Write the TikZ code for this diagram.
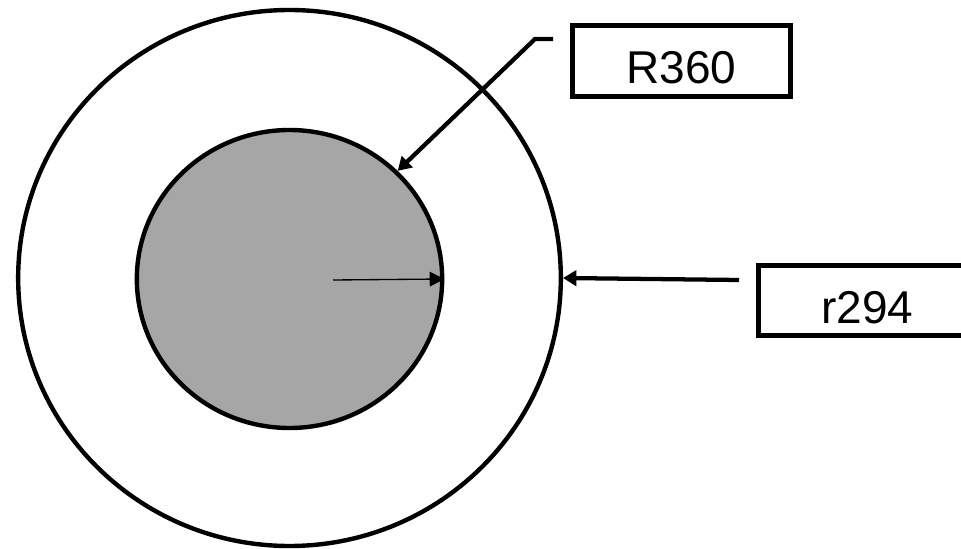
\documentclass[tikz,border=0pt]{standalone}
\usepackage{fontspec}
\setmainfont{Liberation Sans}
\usetikzlibrary{arrows.meta,shapes.geometric}
\definecolor{coregray}{HTML}{A6A6A6}

\begin{document}
\begin{tikzpicture}[x=0.75pt, y=-0.75pt,
  ring/.style={ellipse, draw, line width=3.3pt, inner sep=0pt},
  tag/.style={rectangle, draw, line width=3.6pt, minimum width=163.5pt, minimum height=53pt,
    text height=34pt, text depth=0pt, inner sep=0pt, font=\fontsize{34.5}{40}\selectfont},
  lead/.style={line width=3.2pt, -{Triangle[length=10pt, width=11.5pt]}},
  thin/.style={line width=1pt, -{Triangle[length=11pt, width=11pt]}}]
  \useasboundingbox (0,0) rectangle (961,549);

  \node[ring, minimum width=407pt, minimum height=402pt] (outer) at (289.5,278) {};
  \node[ring, fill=coregray, minimum width=229pt, minimum height=223.5pt] (inner) at (289.5,279) {};

  \node[tag] (R360) at (681.5,61) {R360};
  \node[tag] (r294) at (867.5,300.5) {r294};

  \coordinate (rtail) at (553,39);
  \coordinate (rbend) at (535,39);
  \coordinate (ptail) at (739,280);
  \coordinate (rstart) at (333,280);

  \draw[lead] (rtail) -- (rbend) -- (inner.45);
  \path[lead]
  (ptail) edge (outer.east)
  ;
  \draw[thin] (rstart) -- (inner.east);
\end{tikzpicture}
\end{document}
